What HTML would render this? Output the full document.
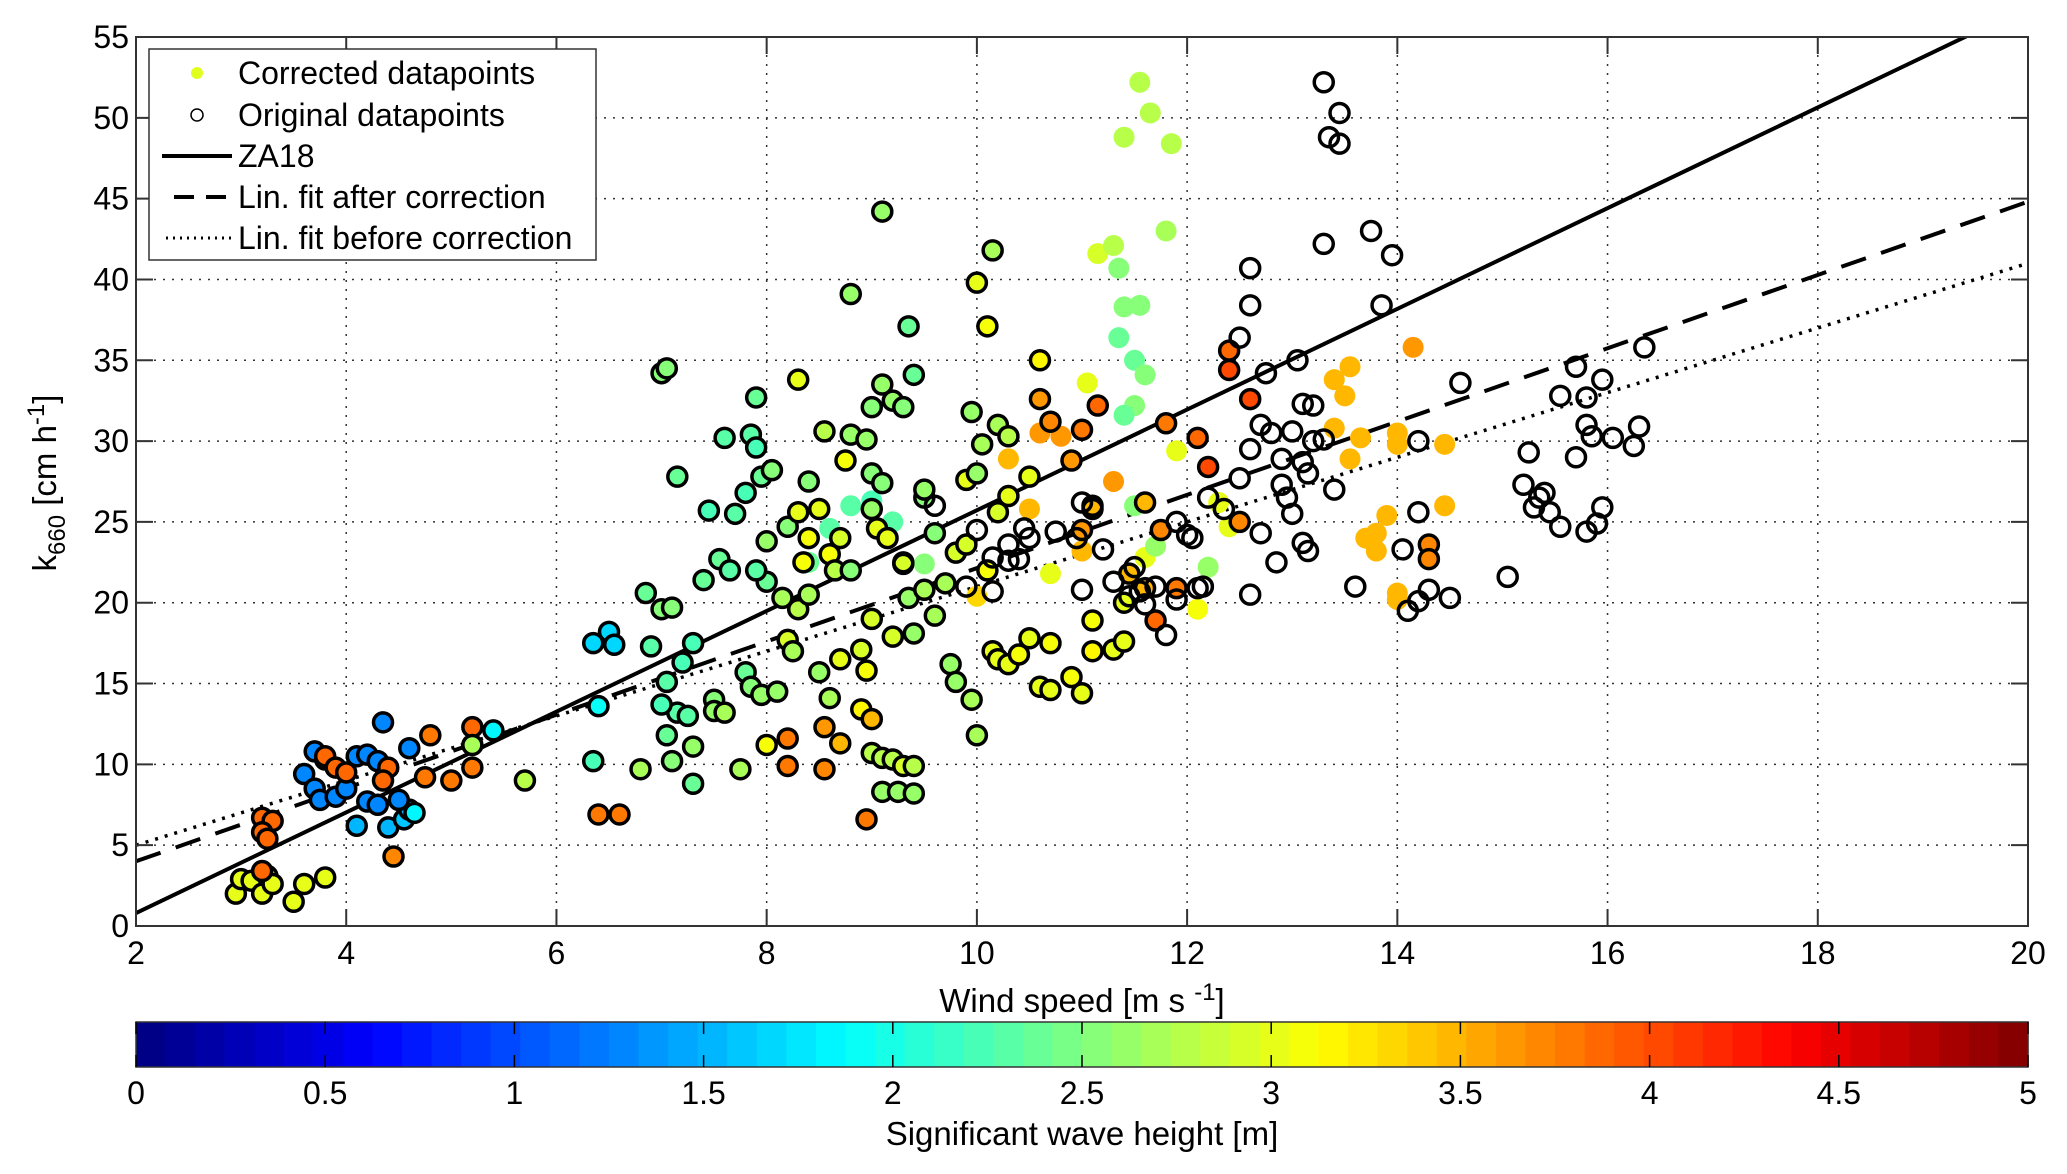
<!DOCTYPE html>
<html><head><meta charset="utf-8"><style>
html,body{margin:0;padding:0;background:#fff;}
svg{display:block;font-family:"Liberation Sans",Arial,sans-serif;}
</style></head><body>
<svg id="chart" width="2067" height="1174" viewBox="0 0 2067 1174" xmlns="http://www.w3.org/2000/svg">
<g id="grid"></g>
<g id="lines"></g>
<g id="points"></g>
<g id="axes"></g>
<g id="legend">
  <rect x="149" y="49" width="447" height="211" fill="#fff" stroke="#333" stroke-width="1.5"/>
  <g><circle cx="197" cy="73" r="6" fill="#e0ff1e"/><text x="238" y="84" font-size="32">Corrected datapoints</text></g>
  <g><circle cx="197" cy="115" r="6" fill="#fff" stroke="#000" stroke-width="1.5"/><text x="238" y="126" font-size="32">Original datapoints</text></g>
  <g><line x1="162" y1="156" x2="232" y2="156" stroke="#000" stroke-width="4"/><text x="238" y="167" font-size="32">ZA18</text></g>
  <g><line x1="162" y1="197" x2="232" y2="197" stroke="#000" stroke-width="4" stroke-dasharray="20,12" stroke-dashoffset="-12"/><text x="238" y="208" font-size="32">Lin. fit after correction</text></g>
  <g><line x1="166" y1="238" x2="232" y2="238" stroke="#000" stroke-width="3" stroke-dasharray="2,5"/><text x="238" y="249" font-size="32">Lin. fit before correction</text></g>
</g>
<g id="cbar"></g>
<text x="1082" y="1012" font-size="33" text-anchor="middle">Wind speed [m s <tspan dy="-12" font-size="24">-1</tspan><tspan dy="12">]</tspan></text>
<text transform="translate(56,483) rotate(-90)" font-size="33" text-anchor="middle">k<tspan dy="9" font-size="24">660</tspan><tspan dy="-9"> [cm h</tspan><tspan dy="-12" font-size="24">-1</tspan><tspan dy="12">]</tspan></text>
<text x="1082" y="1145" font-size="33" text-anchor="middle">Significant wave height [m]</text>
</svg>
<script>
// ---- data ----
const xTicks = [2,4,6,8,10,12,14,16,18,20];
const yTicks = [0,5,10,15,20,25,30,35,40,45,50,55];
const cbTicks = [0,0.5,1,1.5,2,2.5,3,3.5,4,4.5,5];
const cbTickLabels = ["0","0.5","1","1.5","2","2.5","3","3.5","4","4.5","5"];
// fit lines: slope, intercept
const za18Line = [3.115, -5.43];
const fitAfterLine = [2.267, -0.53];
const fitBeforeLine = [2.0, 1.0];
// points present in both sets (coloured with outline): [wind, k660, Hs]
const bothWind = [2.95,3.0,3.1,3.2,3.25,3.3,3.5,3.6,3.8,3.2,3.2,3.3,3.2,3.25,
3.7,3.6,3.7,3.75,3.9,4.0,4.1,4.2,4.3,4.35,4.4,4.1,4.55,4.6,4.5,4.6,4.2,4.3,3.8,
3.8,3.9,4.0,4.4,4.35,4.8,4.45,5.2,5.2,5.0,4.75,5.4,4.65,6.4,6.35,6.5,6.55,5.2,5.7,6.35,6.4,6.6,
7.0,7.05,7.15,7.6,7.9,7.85,8.3,7.9,7.8,7.7,7.45,7.95,8.05,6.85,7.0,7.1,7.4,7.55,7.65,6.9,7.05,7.2,7.3,7.15,7.25,7.5,7.5,7.6,7.8,7.85,7.95,8.1,7.05,7.1,7.3,6.8,7.3,7.0,7.75,8.0,8.2,8.2,8.55,8.55,8.7,8.9,8.95,9.0,9.0,9.1,9.2,9.3,9.4,9.1,9.25,9.4,8.5,8.6,8.7,8.9,8.95,9.2,8.2,8.3,8.15,8.0,7.9,8.0,8.2,8.3,8.4,8.5,8.6,8.65,8.4,8.55,8.75,8.8,8.95,9.0,9.2,9.3,9.4,9.35,8.8,9.1,9.1,9.0,9.1,9.0,9.05,9.15,9.3,9.5,9.5,9.6,9.35,9.5,9.4,9.6,9.75,9.8,9.95,10.0,9.7,9.8,9.9,9.9,10.0,10.05,9.95,10.2,10.3,10.0,10.15,10.1,10.2,10.3,10.5,10.6,10.1,10.15,10.2,10.3,10.4,10.5,10.6,10.7,10.7,10.9,11.0,11.1,11.3,11.4,11.4,11.1,8.25,8.4,8.35,8.7,8.8,9.0,
10.6,10.7,10.9,11.0,11.15,11.1,11.0,11.45,11.6,11.8,12.1,12.2,12.4,12.4,12.5,12.6,11.75,11.9,11.7,11.6,14.3,14.3];
const bothK = [2.0,2.9,2.8,2.0,3.1,2.6,1.5,2.6,3.0,3.4,6.7,6.5,5.8,5.4,
10.8,9.4,8.5,7.8,8.0,8.5,10.5,10.6,10.2,12.6,6.1,6.2,6.6,7.2,7.8,11.0,7.7,7.5,10.3,
10.5,9.8,9.5,9.8,9.0,11.8,4.3,12.3,9.8,9.0,9.2,12.1,7.0,13.6,17.5,18.2,17.4,11.2,9.0,10.2,6.9,6.9,
34.2,34.5,27.8,30.2,32.7,30.4,33.8,29.6,26.8,25.5,25.7,27.8,28.2,20.6,19.6,19.7,21.4,22.7,22.0,17.3,15.1,16.3,17.5,13.2,13.0,14.0,13.3,13.2,15.7,14.8,14.3,14.5,11.8,10.2,11.1,9.7,8.8,13.7,9.7,11.2,9.9,11.6,9.7,12.3,11.3,13.4,6.6,12.8,10.7,10.4,10.3,9.9,9.9,8.3,8.3,8.2,15.7,14.1,16.5,17.1,15.8,17.9,17.7,19.6,20.3,21.3,22.0,23.8,24.7,25.6,24.0,25.8,23.0,22.0,27.5,30.6,28.8,30.4,30.1,32.1,32.5,32.1,34.1,37.1,39.1,44.2,33.5,28.0,27.4,25.8,24.6,24.0,22.5,26.5,27.0,24.3,20.3,20.8,18.1,19.2,16.2,15.1,14.0,11.8,21.2,23.1,23.6,27.6,28.0,29.8,31.8,31.0,30.3,39.8,41.8,37.1,25.6,26.6,27.8,35.0,22.0,17.0,16.5,16.2,16.8,17.8,14.8,14.6,17.5,15.4,14.4,17.0,17.1,17.6,20.0,18.9,17.0,20.5,22.5,24.0,22.0,19.0,
32.6,31.2,28.8,30.7,32.2,26.0,24.5,21.8,20.9,31.1,30.2,28.4,35.6,34.4,25.0,32.6,24.5,20.9,18.9,26.2,23.6,22.7];
const bothHs = [3.0,3.0,3.0,3.0,3.0,3.0,3.0,3.0,3.0,3.9,3.9,3.9,3.9,3.9,
1.3,1.3,1.3,1.3,1.3,1.3,1.3,1.3,1.3,1.3,1.5,1.5,1.6,1.5,1.3,1.3,1.3,1.3,1.3,
3.9,3.9,3.9,3.9,3.9,3.8,3.7,3.9,3.8,3.8,3.8,1.8,1.8,1.9,1.7,1.7,1.7,2.7,2.8,2.2,3.8,3.8,
2.5,2.5,2.4,2.3,2.4,2.3,3.0,2.2,2.2,2.3,2.2,2.4,2.5,2.4,2.5,2.5,2.4,2.4,2.3,2.3,2.3,2.2,2.2,2.3,2.3,2.5,2.6,2.7,2.4,2.5,2.6,2.6,2.4,2.5,2.6,2.7,2.4,2.2,2.7,3.1,3.8,3.8,3.7,3.6,3.5,3.2,3.8,3.5,2.8,2.8,2.8,2.9,2.8,2.6,2.6,2.6,2.6,2.7,3.0,2.9,3.1,2.9,2.9,2.8,2.7,2.4,2.3,2.6,2.5,3.0,3.1,3.0,3.1,2.8,2.5,2.8,3.1,2.6,2.6,2.5,2.6,2.5,2.4,2.4,2.6,2.6,2.6,2.5,2.5,2.6,3.0,3.0,2.9,2.5,2.6,2.5,2.6,2.7,2.6,2.7,2.6,2.6,2.7,2.7,2.7,2.9,2.9,3.0,2.6,2.7,2.6,2.7,2.8,3.0,2.7,3.1,2.9,3.0,3.0,3.2,3.1,3.0,3.0,3.0,3.1,3.0,3.0,3.0,3.1,3.1,3.0,3.2,3.0,3.0,3.0,3.1,2.7,2.7,3.1,2.9,2.5,2.9,
3.6,3.7,3.6,3.8,3.9,3.5,3.6,3.5,3.5,3.8,3.9,4.0,3.9,4.0,3.7,4.0,3.7,3.8,3.9,3.5,3.7,3.7];
// corrected-only points (filled, no outline)
const corrWind = [11.55,11.65,11.4,11.85,11.8,11.15,11.3,11.35,11.4,11.55,11.35,11.5,11.6,11.05,11.5,11.4,10.8,10.6,10.3,11.9,11.3,11.5,12.3,12.4,10.7,10.0,9.5,8.4,8.6,8.8,9.0,9.2,10.5,11.0,12.1,12.2,11.6,11.7,
13.4,13.5,13.55,13.4,13.55,13.65,14.15,14.0,14.0,14.45,13.9,13.8,13.8,14.0,14.0,14.45,13.7];
const corrK = [52.2,50.3,48.8,48.4,43.0,41.6,42.1,40.7,38.3,38.4,36.4,35.0,34.1,33.6,32.2,31.6,30.3,30.5,28.9,29.4,27.5,26.0,26.2,24.7,21.8,20.4,22.4,22.5,24.6,26.0,26.3,25.0,25.8,23.2,19.6,22.2,22.8,23.5,
33.8,32.8,34.6,30.8,28.9,30.2,35.8,30.5,29.8,29.8,25.4,24.3,23.2,20.6,20.2,26.0,24.0];
const corrHs = [2.8,2.8,2.8,2.8,2.7,2.9,2.8,2.5,2.5,2.5,2.4,2.4,2.5,3.0,2.5,2.4,3.6,3.6,3.5,3.0,3.6,2.5,3.0,3.0,3.0,3.3,2.5,2.4,2.3,2.3,2.2,2.3,3.5,3.5,3.1,2.6,3.0,2.6,
3.5,3.5,3.5,3.5,3.5,3.5,3.6,3.5,3.5,3.5,3.5,3.5,3.5,3.5,3.5,3.5,3.5];
// original-only points (open circles)
const origWind = [13.3,13.45,13.35,13.45,13.3,13.75,13.95,13.85,12.6,12.6,12.5,13.05,12.75,12.7,12.8,12.6,12.9,13.0,13.1,13.2,13.2,13.1,12.9,12.95,13.0,13.1,13.15,12.7,12.85,12.6,13.4,13.15,13.3,13.6,14.2,14.2,14.05,14.1,14.2,14.3,14.5,14.6,15.05,15.2,15.25,15.3,15.35,15.4,15.45,15.55,15.55,15.7,15.8,15.7,15.8,15.85,15.8,15.9,15.95,15.95,16.05,16.25,16.3,16.35,12.2,12.0,11.9,12.1,11.8,11.0,11.1,11.0,10.75,10.95,10.45,10.5,10.3,10.3,10.0,10.15,10.4,9.9,9.6,9.3,11.2,11.3,11.45,11.6,11.55,11.9,12.05,12.15,12.5,12.35,11.5,11.7,10.15];
const origK = [52.2,50.3,48.8,48.4,42.2,43.0,41.5,38.4,40.7,38.4,36.4,35.0,34.2,31.0,30.5,29.5,28.9,30.6,32.3,32.2,30.0,28.7,27.3,26.5,25.5,23.7,23.2,24.3,22.5,20.5,27.0,28.0,30.1,21.0,25.6,30.0,23.3,19.5,20.1,20.8,20.3,33.6,21.6,27.3,29.3,25.9,26.5,26.8,25.6,24.7,32.8,34.6,32.7,29.0,31.0,30.3,24.4,24.9,25.9,33.8,30.2,29.7,30.9,35.8,26.5,24.2,20.2,20.9,18.0,20.8,25.8,26.2,24.4,24.0,24.6,24.0,23.6,22.6,24.5,22.8,22.7,21.0,26.0,22.4,23.3,21.3,20.4,19.9,20.7,25.0,24.0,21.0,27.7,25.8,22.2,21.0,20.7];

// ---- geometry ----
const PL=136, PR=2028, PT=37, PB=926;
const X0=2, X1=20, Y0=0, Y1=55;
function sx(u){return PL+(u-X0)/(X1-X0)*(PR-PL);}
function sy(k){return PB-(k-Y0)/(Y1-Y0)*(PB-PT);}
const CBL=136, CBR=2028, CBT=1022, CBB=1067, HMAX=5;
function cx(h){return CBL+h/HMAX*(CBR-CBL);}
function clamp(v){return Math.max(0,Math.min(1,v));}
function jet(v){
  const r=clamp(1.5-Math.abs(4*v-3)), g=clamp(1.5-Math.abs(4*v-2)), b=clamp(1.5-Math.abs(4*v-1));
  return `rgb(${Math.round(r*255)},${Math.round(g*255)},${Math.round(b*255)})`;
}
function hsColor(h){const n=64;const i=Math.min(n-1,Math.floor(h/HMAX*n));return jet((i+0.5)/n);}
const NS="http://www.w3.org/2000/svg";
function mk(tag,attrs,parent){const e=document.createElementNS(NS,tag);for(const k in attrs)e.setAttribute(k,attrs[k]);parent.appendChild(e);return e;}

// grid
const grid=document.getElementById('grid');
xTicks.forEach(t=>{ if(t>X0&&t<X1){const l=mk('line',{x1:sx(t),x2:sx(t),y1:PT,y2:PB,stroke:'#333','stroke-width':1.5,'stroke-dasharray':'2,7'},grid);

}});
yTicks.forEach(t=>{ if(t>Y0&&t<Y1){const l=mk('line',{x1:PL,x2:PR,y1:sy(t),y2:sy(t),stroke:'#333','stroke-width':1.5,'stroke-dasharray':'2,7'},grid);

}});

// lines
const lines=document.getElementById('lines');
const clip=mk('clipPath',{id:'pc'},mk('defs',{},lines));
mk('rect',{x:PL,y:PT,width:PR-PL,height:PB-PT},clip);
function drawLine(p,dash,w,name){
  const l=mk('line',{x1:sx(X0),y1:sy(p[0]*X0+p[1]),x2:sx(X1),y2:sy(p[0]*X1+p[1]),stroke:'#000','stroke-width':w,'clip-path':'url(#pc)'},lines);
  if(dash)l.setAttribute('stroke-dasharray',dash);
  
  
}
drawLine(za18Line,null,4,'za18-line');
drawLine(fitAfterLine,'26,16',4,'fit-after-line');
drawLine(fitBeforeLine,'3,7',3.5,'fit-before-line');

// points
const pts=document.getElementById('points');
corrWind.forEach((u,i)=>{const c=mk('circle',{cx:sx(u),cy:sy(corrK[i]),r:10.5,fill:hsColor(corrHs[i])},pts);

});
bothWind.forEach((u,i)=>{const c=mk('circle',{cx:sx(u),cy:sy(bothK[i]),r:9.5,fill:hsColor(bothHs[i]),stroke:'#000','stroke-width':3.5},pts);

});
origWind.forEach((u,i)=>{const c=mk('circle',{cx:sx(u),cy:sy(origK[i]),r:9.5,fill:'none',stroke:'#000','stroke-width':3.5},pts);

});

// axes
const ax=document.getElementById('axes');
const box=mk('rect',{x:PL,y:PT,width:PR-PL,height:PB-PT,fill:'none',stroke:'#333','stroke-width':2},ax);


xTicks.forEach(t=>{
  mk('line',{x1:sx(t),x2:sx(t),y1:PB,y2:PB-17,stroke:'#333','stroke-width':2},ax);
  mk('line',{x1:sx(t),x2:sx(t),y1:PT,y2:PT+17,stroke:'#333','stroke-width':2},ax);
  const tx=mk('text',{x:sx(t),y:PB+38,'font-size':32,'text-anchor':'middle'},ax);tx.textContent=t;
  
  
});
yTicks.forEach(t=>{
  mk('line',{x1:PL,x2:PL+17,y1:sy(t),y2:sy(t),stroke:'#333','stroke-width':2},ax);
  mk('line',{x1:PR,x2:PR-17,y1:sy(t),y2:sy(t),stroke:'#333','stroke-width':2},ax);
  const tx=mk('text',{x:PL-7,y:sy(t)+11,'font-size':32,'text-anchor':'end'},ax);tx.textContent=t;
  
  
});

// colorbar
const cb=document.getElementById('cbar');
const N=64;
for(let i=0;i<N;i++){
  mk('rect',{x:CBL+i*(CBR-CBL)/N,y:CBT,width:(CBR-CBL)/N+0.6,height:CBB-CBT,fill:jet((i+0.5)/N)},cb);
}
mk('rect',{x:CBL,y:CBT,width:CBR-CBL,height:CBB-CBT,fill:'none',stroke:'#333','stroke-width':1.5},cb);
cbTicks.forEach((t,i)=>{
  mk('line',{x1:cx(t),x2:cx(t),y1:CBT,y2:CBT+12,stroke:'#000','stroke-width':1.5},cb);
  mk('line',{x1:cx(t),x2:cx(t),y1:CBB,y2:CBB-12,stroke:'#000','stroke-width':1.5},cb);
  const tx=mk('text',{x:cx(t),y:CBB+37,'font-size':32,'text-anchor':'middle'},cb);tx.textContent=cbTickLabels[i];
  
  
});
</script>
</body></html>
